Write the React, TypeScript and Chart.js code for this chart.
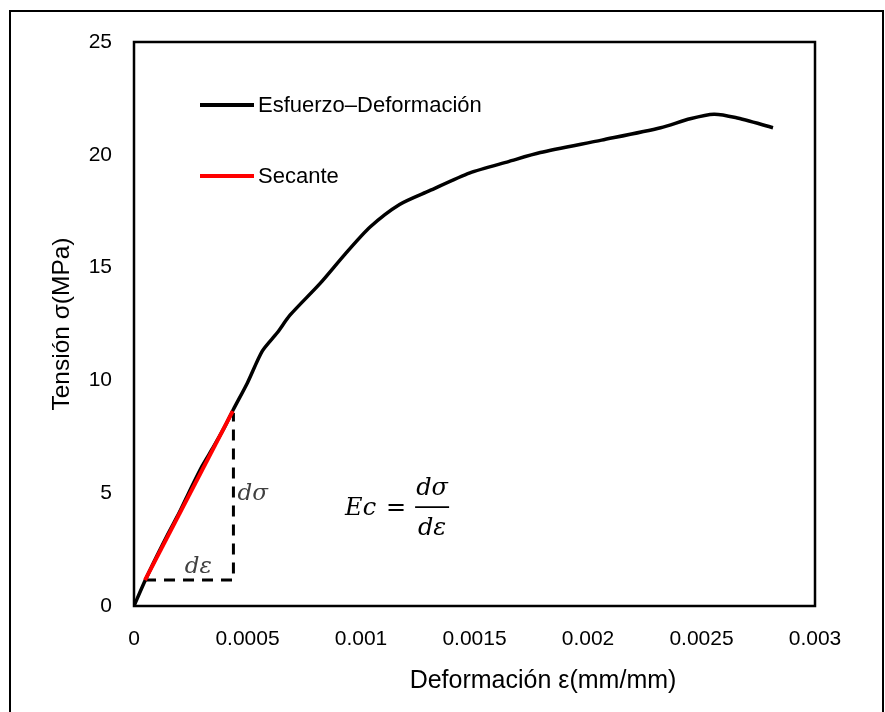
import { useEffect, useRef } from "react";
import { Chart, registerables } from "chart.js";

Chart.register(...registerables);

// Stress–strain curve (strain mm/mm, stress MPa)
const strain = [
  0, 0.00005, 0.0001, 0.00015, 0.0002, 0.00025, 0.0003, 0.00035, 0.0004, 0.000437,
  0.0005, 0.000565, 0.00063, 0.000688, 0.00082, 0.00093, 0.00104, 0.00117, 0.0013,
  0.00148, 0.00165, 0.00179, 0.00206, 0.00232, 0.00245, 0.002555, 0.00265, 0.002815,
];
const stress = [
  0, 1.15, 2.2, 3.2, 4.15, 5.2, 6.2, 7.05, 7.95, 8.7,
  9.9, 11.3, 12.1, 12.9, 14.3, 15.6, 16.8, 17.8, 18.4,
  19.2, 19.7, 20.1, 20.65, 21.2, 21.6, 21.8, 21.65, 21.2,
];
// Secant line
const secantStrain = [0.0000485, 0.000435];
const secantStress = [1.15, 8.64];
// Dashed guides (dε horizontal, dσ vertical)
const guideStrain = [0.0000485, 0.000438, 0.000438];
const guideStress = [1.15, 1.15, 8.55];

const xTicks = [0, 0.0005, 0.001, 0.0015, 0.002, 0.0025, 0.003];
const xTickLabels = ["0", "0.0005", "0.001", "0.0015", "0.002", "0.0025", "0.003"];
const yTicks = [0, 5, 10, 15, 20, 25];
const yTickLabels = ["0", "5", "10", "15", "20", "25"];
const seriesNames = ["Esfuerzo–Deformación", "Secante"];
const xTitle = "Deformación ε(mm/mm)";
const yTitle = "Tensión σ(MPa)";
const formulaLeft = "Ec";
const formulaNum = "dσ";
const formulaDen = "dε";

const SANS = "'Liberation Sans', Arial, sans-serif";
const SERIF = "'DejaVu Serif', serif";

const boxPlugin = {
  id: "boxAndAnnotations",
  beforeDatasetsDraw(chart: any) {
    const { ctx, chartArea } = chart;
    ctx.save();
    ctx.strokeStyle = "#000";
    ctx.lineWidth = 2.5;
    ctx.strokeRect(chartArea.left, chartArea.top, chartArea.right - chartArea.left, chartArea.bottom - chartArea.top);
    ctx.restore();
  },
  afterDatasetsDraw(chart: any) {
    const { ctx, chartArea } = chart;
    const xs = chart.scales.x;
    const ys = chart.scales.y;
    ctx.save();
    // x axis title (offset right as in the reference)
    ctx.fillStyle = "#000";
    ctx.font = `25px ${SANS}`;
    ctx.textAlign = "center";
    ctx.textBaseline = "middle";
    ctx.fillText(xTitle, 543, 681);
    // legend
    const colors = ["#000000", "#ff0000"];
    const rows = [63, 134];
    for (let i = 0; i < seriesNames.length; i++) {
      const y = chartArea.top + rows[i];
      ctx.strokeStyle = colors[i];
      ctx.lineWidth = 4;
      ctx.beginPath();
      ctx.moveTo(chartArea.left + 66, y);
      ctx.lineTo(chartArea.left + 120, y);
      ctx.stroke();
      ctx.fillStyle = "#000";
      ctx.font = `22px ${SANS}`;
      ctx.textBaseline = "middle";
      ctx.textAlign = "left";
      ctx.fillText(seriesNames[i], chartArea.left + 124, y + 1);
    }
    // annotations near guides
    ctx.font = `italic 23px ${SERIF}`;
    ctx.fillStyle = "#404040";
    ctx.textBaseline = "alphabetic";
    ctx.textAlign = "left";
    ctx.fillText(formulaNum, xs.getPixelForValue(guideStrain[1]) + 4, ys.getPixelForValue(4.7));
    ctx.textAlign = "center";
    ctx.fillText(formulaDen, xs.getPixelForValue(0.000283), ys.getPixelForValue(1.45));
    // formula Ec = dσ/dε
    const fx = xs.getPixelForValue(0.00093);
    const fy = ys.getPixelForValue(4.03);
    ctx.fillStyle = "#000";
    ctx.textAlign = "left";
    ctx.font = `italic 24px ${SERIF}`;
    ctx.fillText(formulaLeft, fx, fy);
    ctx.font = `24px ${SERIF}`;
    ctx.fillText("=", fx + 41, fy);
    ctx.lineWidth = 1.8;
    ctx.strokeStyle = "#000";
    ctx.beginPath();
    ctx.moveTo(fx + 70, fy - 8);
    ctx.lineTo(fx + 104, fy - 8);
    ctx.stroke();
    ctx.font = `italic 24px ${SERIF}`;
    ctx.textAlign = "center";
    ctx.fillText(formulaNum, fx + 87, fy - 20);
    ctx.fillText(formulaDen, fx + 87, fy + 20);
    ctx.restore();
  },
};

export default function App() {
  const ref = useRef<HTMLCanvasElement | null>(null);
  useEffect(() => {
    if (!ref.current) return;
    const toPts = (xs: number[], ys: number[]) => xs.map((x, i) => ({ x, y: ys[i] }));
    const chart = new Chart(ref.current, {
      type: "line",
      data: {
        datasets: [
          {
            label: seriesNames[0],
            data: toPts(strain, stress),
            borderColor: "#000",
            borderWidth: 3.5,
            pointRadius: 0,
            tension: 0.25,
            fill: false,
            order: 2,
          },
          {
            label: "guides",
            data: toPts(guideStrain, guideStress),
            borderColor: "#000",
            borderWidth: 3,
            borderDash: [11, 8],
            pointRadius: 0,
            tension: 0,
            fill: false,
            order: 1,
          },
          {
            label: seriesNames[1],
            data: toPts(secantStrain, secantStress),
            borderColor: "#ff0000",
            borderWidth: 4,
            pointRadius: 0,
            tension: 0,
            fill: false,
            order: 0,
          },
        ],
      },
      options: {
        responsive: false,
        animation: false,
        devicePixelRatio: 1,
        layout: { padding: { top: 42, right: 70, left: 0, bottom: 0 } },
        plugins: { legend: { display: false }, tooltip: { enabled: false } },
        scales: {
          x: {
            type: "linear",
            min: 0,
            max: 0.003,
            grid: { display: false, drawTicks: false },
            border: { display: false },
            afterBuildTicks: (s: any) => {
              s.ticks = xTicks.map((v) => ({ value: v }));
            },
            afterFit: (s: any) => {
              s.height = 106;
            },
            ticks: {
              color: "#000",
              font: { family: SANS, size: 21 },
              padding: 21,
              maxRotation: 0,
              autoSkip: false,
              callback: (_v: any, i: number) => xTickLabels[i],
            },
            title: { display: false },
          },
          y: {
            type: "linear",
            min: 0,
            max: 25,
            grid: { display: false, drawTicks: false },
            border: { display: false },
            afterBuildTicks: (s: any) => {
              s.ticks = yTicks.map((v) => ({ value: v }));
            },
            afterFit: (s: any) => {
              s.width = 134;
            },
            ticks: {
              color: "#000",
              font: { family: SANS, size: 21 },
              padding: 22,
              autoSkip: false,
              callback: (_v: any, i: number) => yTickLabels[i],
            },
            title: {
              display: true,
              text: yTitle,
              color: "#000",
              font: { family: SANS, size: 24.5 },
              padding: { top: 48, bottom: 0 },
            },
          },
        },
      },
      plugins: [boxPlugin],
    } as any);
    return () => chart.destroy();
  }, []);

  return (
    <div
      style={{
        position: "fixed",
        left: 0,
        top: 0,
        width: 885,
        height: 712,
        overflow: "hidden",
        background: "#fff",
      }}
    >
      <div
        style={{
          position: "absolute",
          left: 9,
          top: 10,
          width: 875,
          height: 730,
          border: "2px solid #000",
          boxSizing: "border-box",
        }}
      />
      <canvas ref={ref} width={885} height={712} style={{ position: "absolute", left: 0, top: 0, width: 885, height: 712 }} />
    </div>
  );
}
